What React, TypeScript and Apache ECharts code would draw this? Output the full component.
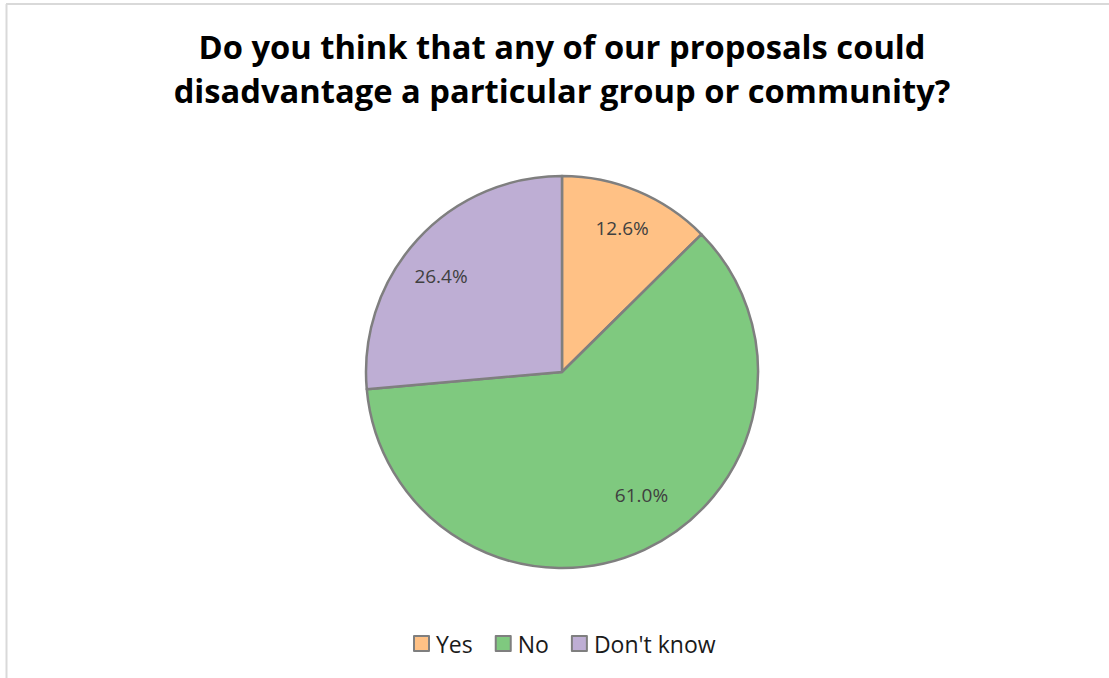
import React, { useEffect, useRef } from "react";
import * as echarts from "echarts";

const categories = ["Yes", "No", "Don't know"];
const values = [12.6, 61.0, 26.4];
const colors = ["#FFC185", "#7FC97F", "#BEAED4"];
const titleText = "Do you think that any of our proposals could\ndisadvantage a particular group or community?";
const labelOffsets: [number, number][] = [[0, 0], [14, -18], [-6, 9]];

export default function App() {
  const ref = useRef<HTMLDivElement>(null);
  useEffect(() => {
    if (!ref.current) return;
    const chart = echarts.init(ref.current, null, { renderer: "svg" });
    const data = categories.map((name, i) => ({
      name,
      value: values[i],
      itemStyle: { color: colors[i] },
    }));
    const R = 196;
    chart.setOption({
      animation: false,
      backgroundColor: "#ffffff",
      title: {
        text: titleText,
        left: 557,
        textAlign: "center",
        top: 19,
        textStyle: {
          fontFamily: "Open Sans",
          fontWeight: "bold",
          fontSize: 32.7,
          lineHeight: 44,
          color: "#000000",
        },
      },
      legend: {
        bottom: 18,
        left: 408,
        icon: "rect",
        itemWidth: 15,
        itemHeight: 15,
        itemGap: 22,
        textStyle: { fontFamily: "Open Sans", fontSize: 23, color: "#1a1a1a", padding: [0, 0, 0, 2] },
        itemStyle: { borderColor: "#7f7f7f", borderWidth: 2 },
        data: categories,
      },
      graphic: [
        { type: "line", shape: { x1: 6.5, y1: 4, x2: 6.5, y2: 678 }, style: { stroke: "#d9d9d9", lineWidth: 2 } },
        { type: "line", shape: { x1: 6, y1: 4, x2: 1109, y2: 4 }, style: { stroke: "#d9d9d9", lineWidth: 2 } },
      ],
      series: [
        {
          type: "pie",
          center: [562, 372],
          radius: [0, R],
          startAngle: 90,
          clockwise: true,
          data,
          label: { show: false },
          labelLine: { show: false },
          itemStyle: { borderColor: "#7f7f7f", borderWidth: 2.5 },
          emphasis: { disabled: true },
        },
        {
          type: "pie",
          center: [562, 372],
          radius: [R * 0.56, R],
          startAngle: 90,
          clockwise: true,
          silent: true,
          data: data.map((d, i) => ({
            name: d.name,
            value: d.value,
            itemStyle: { color: "rgba(0,0,0,0)" },
            label: { offset: labelOffsets[i] },
          })),
          label: {
            show: true,
            position: "inside",
            formatter: (p: any) => p.value.toFixed(1) + "%",
            fontFamily: "Open Sans",
            fontSize: 19,
            color: "#404040",
          },
          labelLine: { show: false },
          itemStyle: { borderWidth: 0 },
          emphasis: { disabled: true },
          legendHoverLink: false,
        },
      ],
    });
    return () => chart.dispose();
  }, []);
  return (
    <div
      ref={ref}
      style={{ position: "absolute", left: 0, top: 0, width: 1109, height: 678 }}
    />
  );
}
